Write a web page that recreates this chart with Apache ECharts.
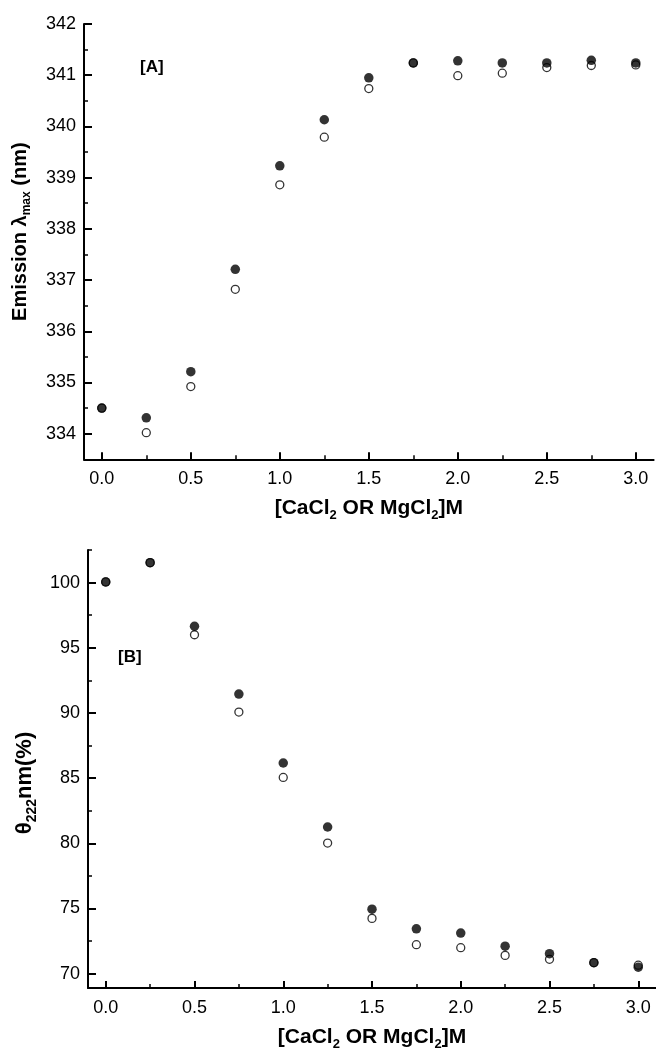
<!DOCTYPE html>
<html>
<head>
<meta charset="utf-8">
<script src="https://cdn.jsdelivr.net/npm/echarts@6/dist/echarts.min.js"></script>
<style>
html,body{margin:0;padding:0;background:#fff;}
#chart{width:656px;height:1054px;}
</style>
</head>
<body>
<div id="chart"></div>
<script>
// ---- data ----
const conc = [0, 0.25, 0.5, 0.75, 1.0, 1.25, 1.5, 1.75, 2.0, 2.25, 2.5, 2.75, 3.0];
const emissionFilled = [334.50, 334.31, 335.21, 337.21, 339.23, 340.13, 340.95, 341.24, 341.28, 341.24, 341.24, 341.29, 341.24];
const emissionOpen   = [334.50, 334.02, 334.92, 336.82, 338.86, 339.79, 340.74, 341.24, 340.99, 341.04, 341.15, 341.19, 341.20];
const ellipFilled = [100.05, 101.53, 96.65, 91.45, 86.16, 81.25, 74.95, 73.44, 73.11, 72.11, 71.53, 70.84, 70.50];
const ellipOpen   = [100.05, 101.53, 96.00, 90.07, 85.05, 80.02, 74.24, 72.22, 71.99, 71.40, 71.10, 70.84, 70.65];
const xMajorTicks = [0, 0.5, 1.0, 1.5, 2.0, 2.5, 3.0];
const xMinorTicks = [0.25, 0.75, 1.25, 1.75, 2.25, 2.75];
const emMajorTicks = [334, 335, 336, 337, 338, 339, 340, 341, 342];
const emMinorTicks = [333.5, 334.5, 335.5, 336.5, 337.5, 338.5, 339.5, 340.5, 341.5];
const elMajorTicks = [70, 75, 80, 85, 90, 95, 100];
const elMinorTicks = [72.5, 77.5, 82.5, 87.5, 92.5, 97.5, 102.5];

const FONT = '"Liberation Sans", Arial, sans-serif';
function richName(big, small, lh) {
  return {
    b: {fontFamily: FONT, fontWeight: 'bold', fontSize: big, lineHeight: lh, color: '#000', verticalAlign: 'middle'},
    s: {fontFamily: FONT, fontWeight: 'bold', fontSize: small, lineHeight: small, color: '#000', verticalAlign: 'bottom'}
  };
}

function xAxes(gridIndex, nameStr) {
  return [{
    type: 'value', gridIndex: gridIndex, min: -0.1, max: 3.1, position: 'bottom',
    name: nameStr, nameLocation: 'middle', nameGap: 35,
    nameTextStyle: {rich: richName(21, 13, 28)},
    axisLine: {show: true, onZero: false, lineStyle: {color: '#000', width: 2}},
    axisTick: {show: true, inside: true, length: 7, lineStyle: {color: '#000', width: 2}, customValues: xMajorTicks},
    axisLabel: {show: true, margin: 11, fontFamily: FONT, fontSize: 18, color: '#000', customValues: xMajorTicks,
      formatter: v => Number(v).toFixed(1)},
    splitLine: {show: false}
  }, {
    type: 'value', gridIndex: gridIndex, min: -0.1, max: 3.1, position: 'bottom',
    axisLine: {show: false, onZero: false},
    axisTick: {show: true, inside: true, length: 4, lineStyle: {color: '#000', width: 1.5}, customValues: xMinorTicks},
    axisLabel: {show: false},
    splitLine: {show: false}
  }];
}
function yAxes(gridIndex, min, max, major, minor, nameStr, gap, rich, pad) {
  return [{
    type: 'value', gridIndex: gridIndex, min: min, max: max, position: 'left',
    name: nameStr, nameLocation: 'middle', nameGap: gap,
    nameTextStyle: {rich: rich, padding: pad},
    axisLine: {show: true, onZero: false, lineStyle: {color: '#000', width: 2}},
    axisTick: {show: true, inside: true, length: 8, lineStyle: {color: '#000', width: 2}, customValues: major},
    axisLabel: {show: true, margin: 8, fontFamily: FONT, fontSize: 18, color: '#000', customValues: major},
    splitLine: {show: false}
  }, {
    type: 'value', gridIndex: gridIndex, min: min, max: max, position: 'left',
    axisLine: {show: false, onZero: false},
    axisTick: {show: true, inside: true, length: 4, lineStyle: {color: '#000', width: 1.5}, customValues: minor},
    axisLabel: {show: false},
    splitLine: {show: false}
  }];
}

const xName = '{b|[CaCl}{s|2}{b| OR MgCl}{s|2}{b|]M}';
const yNameA = '{b|Emission λ}{s|max}{b| (nm)}';
const yNameB = '{b|θ}{s|222}{b|nm(%)}';

function pairs(ys) { return conc.map((x, i) => [x, ys[i]]); }

const filledStyle = {color: '#000'};
const openStyle = {color: '#fff', borderColor: '#000', borderWidth: 1.3};

const option = {
  animation: false,
  backgroundColor: '#fff',
  grid: [
    {left: 84, top: 24, width: 569.6, height: 435.3},
    {left: 88, top: 550, width: 569.6, height: 438}
  ],
  xAxis: [].concat(xAxes(0, xName), xAxes(1, xName)),
  yAxis: [].concat(
    yAxes(0, 333.5, 342, emMajorTicks, emMinorTicks, yNameA, 51, richName(20, 12, 26), [0, 0, 0, 20]),
    yAxes(1, 68.9, 102.5, elMajorTicks, elMinorTicks, yNameB, 46, richName(22, 14, 28), [0, 28, 0, 0])
  ),
  series: [
    {type: 'scatter', xAxisIndex: 0, yAxisIndex: 0, data: pairs(emissionOpen), symbol: 'circle', symbolSize: 8, itemStyle: openStyle, z: 2},
    {type: 'scatter', xAxisIndex: 0, yAxisIndex: 0, data: pairs(emissionFilled), symbol: 'circle', symbolSize: 9.5, itemStyle: filledStyle, z: 3},
    {type: 'scatter', xAxisIndex: 2, yAxisIndex: 2, data: pairs(ellipOpen), symbol: 'circle', symbolSize: 8, itemStyle: openStyle, z: 2},
    {type: 'scatter', xAxisIndex: 2, yAxisIndex: 2, data: pairs(ellipFilled), symbol: 'circle', symbolSize: 9.5, itemStyle: filledStyle, z: 3}
  ],
  graphic: [
    {type: 'text', left: 140, top: 59, style: {text: '[A]', fontFamily: FONT, fontWeight: 'bold', fontSize: 17, fill: '#000'}},
    {type: 'text', left: 118, top: 649, style: {text: '[B]', fontFamily: FONT, fontWeight: 'bold', fontSize: 17, fill: '#000'}}
  ]
};

const chart = echarts.init(document.getElementById('chart'), null, {renderer: 'canvas'});
chart.setOption(option);
</script>
</body>
</html>
